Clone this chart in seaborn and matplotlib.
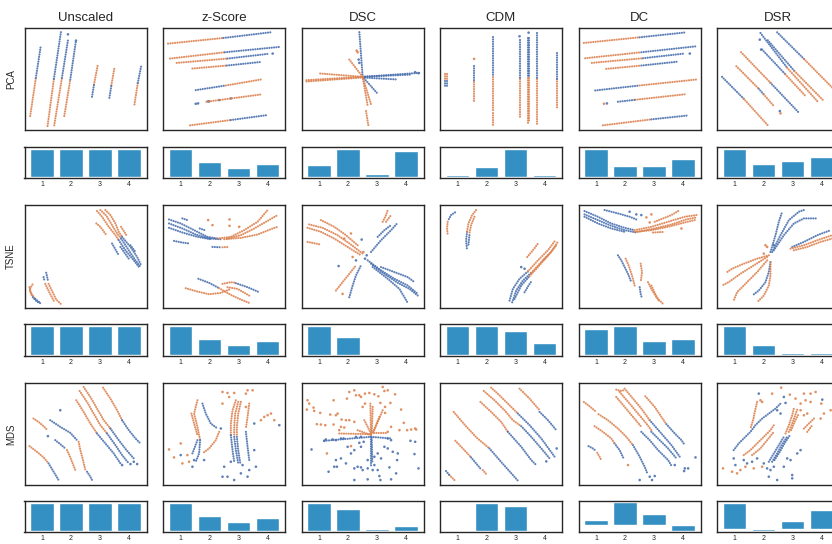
import matplotlib

matplotlib.use("Agg")
import matplotlib.pyplot as plt
import pandas as pd
import seaborn as sns

# columns / rows of the grid
SCALERS = ["Unscaled", "z-Score", "DSC", "CDM", "DC", "DSR"]
METHODS = ["PCA", "TSNE", "MDS"]
BAR_TICKS = ["1", "2", "3", "4"]

# normalised component weights shown in the small bar panels
BARS_PCA = {
    "Unscaled": [1.0, 1.0, 1.0, 1.0],
    "z-Score": [1.0, 0.53, 0.31, 0.46],
    "DSC": [0.42, 1.0, 0.10, 0.93],
    "CDM": [0.05, 0.33, 1.0, 0.05],
    "DC": [1.0, 0.39, 0.39, 0.64],
    "DSR": [1.0, 0.46, 0.57, 0.71],
}
BARS_TSNE = {
    "Unscaled": [1.0, 1.0, 1.0, 1.0],
    "z-Score": [1.0, 0.53, 0.32, 0.46],
    "DSC": [1.0, 0.60, 0.04, 0.04],
    "CDM": [1.0, 1.0, 0.81, 0.42],
    "DC": [0.88, 1.0, 0.46, 0.53],
    "DSR": [1.0, 0.32, 0.07, 0.07],
}
BARS_MDS = {
    "Unscaled": [1.0, 1.0, 1.0, 1.0],
    "z-Score": [1.0, 0.53, 0.32, 0.46],
    "DSC": [1.0, 0.78, 0.07, 0.18],
    "CDM": [0.0, 1.0, 0.87, 0.03],
    "DC": [0.22, 1.0, 0.49, -0.29],
    "DSR": [1.0, -0.07, 0.29, 0.72],
}

# embedded points: strands of consecutive points ("o" orange class, "b" blue class)
PCA_UNSCALED_LINES = [
    ("o", [(17, 265), (34, 150)]), ("b", [(34, 150), (49, 52)]),
    ("o", [(69, 295), (88, 153)]), ("b", [(88, 153), (109, 12)]),
    ("o", [(89, 293), (112, 150)]), ("b", [(112, 150), (130, 37)]),
    ("o", [(119, 265), (137, 155)]), ("b", [(137, 155), (154, 38)]),
    ("b", [(202, 207), (208, 170)]), ("o", [(208, 170), (219, 112)]),
    ("b", [(254, 210), (260, 172)]), ("o", [(260, 172), (269, 120)]),
    ("o", [(329, 230), (339, 165)]), ("b", [(339, 165), (349, 115)]),
]
PCA_UNSCALED_DOTS = [("b", [(130, 19), (154, 38)])]

PCA_ZSCORE_LINES = [
    ("o", [(15, 47), (181, 30)]), ("b", [(181, 30), (321, 13)]),
    ("o", [(21, 92), (185, 73)]), ("b", [(185, 73), (348, 57)]),
    ("o", [(41, 105), (193, 92)]), ("b", [(193, 92), (313, 78)]),
    ("o", [(88, 122), (191, 113)]), ("b", [(191, 113), (295, 102)]),
    ("b", [(98, 187), (188, 173)]), ("o", [(188, 173), (293, 155)]),
    ("o", [(130, 222), (293, 200)]),
    ("o", [(81, 293), (203, 277)]), ("b", [(203, 277), (313, 262)]),
]
PCA_ZSCORE_DOTS = [("b", [(98, 228), (105, 227), (135, 221), (138, 221),
                          (168, 217), (203, 212), (328, 77)])]

PCA_DSC_LINES = [
    ("b", [(183, 147), (173, 12)]),
    ("o", [(143, 95), (183, 147)]),
    ("o", [(15, 157), (183, 147)]),
    ("o", [(15, 161), (183, 149)]),
    ("o", [(56, 137), (183, 147)]),
    ("b", [(183, 147), (353, 135)]),
    ("b", [(183, 149), (288, 155)]),
    ("b", [(183, 147), (330, 140)]),
    ("b", [(183, 147), (228, 198)]),
    ("o", [(183, 147), (208, 230)]),
    ("o", [(183, 147), (198, 235)]),
    ("o", [(193, 250), (200, 293)]),
]
PCA_DSC_DOTS = [("o", [(165, 68), (168, 73)]),
                ("b", [(171, 95), (173, 105), (340, 133), (350, 136)])]

PCA_CDM_LINES = [
    ("o", [(16, 137), (16, 160)]), ("b", [(16, 160), (16, 177)]),
    ("o", [(20, 137), (20, 160)]), ("b", [(20, 160), (20, 177)]),
    ("b", [(102, 113), (102, 160)]), ("o", [(102, 163), (102, 225)]),
    ("b", [(158, 28), (158, 147)]), ("o", [(158, 147), (158, 250)]),
    ("o", [(158, 257), (158, 295)]),
    ("b", [(238, 35), (238, 150)]), ("o", [(238, 153), (238, 270)]),
    ("b", [(264, 30), (264, 150)]), ("o", [(264, 150), (264, 293)]),
    ("b", [(267, 30), (267, 150)]), ("o", [(267, 150), (267, 280)]),
    ("b", [(289, 15), (289, 153)]), ("o", [(289, 153), (289, 290)]),
    ("b", [(349, 75), (349, 152)]), ("o", [(349, 152), (349, 242)]),
]
PCA_CDM_DOTS = [("o", [(102, 93)]), ("b", [(238, 25), (265, 14)])]

PCA_DC_LINES = [
    ("o", [(16, 45), (183, 28)]), ("b", [(183, 28), (323, 13)]),
    ("o", [(20, 91), (188, 73)]), ("b", [(188, 73), (353, 55)]),
    ("o", [(40, 105), (193, 91)]), ("b", [(193, 91), (316, 77)]),
    ("o", [(83, 123), (188, 113)]), ("b", [(188, 113), (300, 101)]),
    ("b", [(50, 188), (183, 173)]), ("o", [(183, 173), (353, 155)]),
    ("b", [(118, 222), (170, 216)]), ("o", [(170, 216), (323, 199)]),
    ("o", [(73, 293), (218, 275)]), ("b", [(218, 275), (330, 263)]),
]
PCA_DC_DOTS = [("o", [(76, 228)]), ("b", [(85, 227), (333, 77)])]

PCA_DSR_LINES = [
    ("b", [(15, 147), (80, 213)]), ("o", [(80, 213), (152, 293)]),
    ("o", [(58, 115), (125, 183)]), ("b", [(125, 183), (140, 200)]),
    ("o", [(140, 200), (170, 235)]),
    ("o", [(72, 73), (160, 165)]), ("b", [(160, 165), (245, 255)]),
    ("b", [(130, 15), (210, 120)]), ("o", [(210, 120), (300, 220)]),
    ("b", [(152, 37), (232, 130)]), ("o", [(232, 130), (320, 220)]),
    ("b", [(135, 65), (205, 140)]), ("o", [(205, 140), (265, 205)]),
    ("b", [(180, 13), (260, 93)]), ("o", [(260, 93), (365, 200)]),
]
PCA_DSR_DOTS = [("b", [(128, 35), (132, 65), (188, 250)]), ("o", [(190, 257)])]

TSNE_UNSCALED_LINES = [
    ("o", [(217, 18), (232, 35), (252, 65), (272, 90), (282, 105)]),
    ("b", [(282, 105), (302, 135), (327, 165), (345, 188)]),
    ("o", [(227, 15), (245, 32), (262, 60), (277, 85), (289, 100)]),
    ("b", [(289, 100), (312, 135), (332, 165), (347, 185)]),
    ("o", [(242, 15), (257, 30), (272, 55), (282, 80), (292, 95)]),
    ("b", [(292, 95), (317, 125), (337, 155), (349, 180)]),
    ("o", [(215, 55), (227, 65), (245, 90)]),
    ("o", [(289, 65), (305, 90)]),
    ("b", [(262, 115), (282, 150)]),
    ("b", [(287, 125), (312, 160)]),
    ("b", [(317, 120), (332, 140)]),
    ("o", [(24, 237), (15, 252), (22, 270)]),
    ("b", [(25, 275), (37, 288), (52, 295)]),
    ("o", [(15, 245), (19, 262), (32, 280)]), ("b", [(32, 280), (45, 290)]),
    ("b", [(65, 202), (70, 225)]),
    ("o", [(72, 235), (85, 262), (95, 282), (109, 295)]),
    ("b", [(57, 215), (60, 228)]),
    ("o", [(62, 235), (75, 262), (90, 290)]),
]
TSNE_UNSCALED_DOTS = []

TSNE_ZSCORE_LINES = [
    ("b", [(18, 43), (53, 55), (93, 75), (133, 95), (163, 100)]),
    ("o", [(163, 100), (203, 95), (243, 75), (283, 50), (313, 15)]),
    ("b", [(18, 55), (58, 70), (98, 88), (138, 100), (173, 102)]),
    ("o", [(193, 100), (233, 90), (273, 70), (308, 50), (343, 30)]),
    ("b", [(18, 68), (58, 82), (103, 95), (143, 102)]),
    ("o", [(183, 102), (233, 98), (283, 88), (323, 72), (343, 65)]),
    ("b", [(33, 107), (58, 112), (81, 115)]),
    ("b", [(58, 40), (73, 45)]),
    ("b", [(110, 70), (125, 75)]),
    ("b", [(148, 125), (173, 126)]), ("o", [(178, 126), (198, 125)]),
    ("b", [(106, 220), (138, 232), (168, 248)]),
    ("o", [(168, 248), (203, 268), (233, 282), (261, 293)]),
    ("o", [(68, 248), (103, 258), (138, 266), (173, 262), (203, 250)]),
    ("o", [(178, 235), (203, 230), (218, 232)]),
    ("b", [(218, 233), (253, 245), (288, 260)]),
    ("o", [(193, 245), (223, 250), (258, 270)]),
]
TSNE_ZSCORE_DOTS = [("o", [(135, 45), (148, 60), (199, 43), (199, 62), (228, 65)])]

TSNE_DSC_LINES = [
    ("o", [(18, 68), (58, 80), (98, 100), (138, 125), (178, 150)]),
    ("b", [(198, 165), (238, 195), (278, 220), (318, 240), (348, 265)]),
    ("o", [(23, 58), (63, 68), (108, 90), (148, 118), (183, 145)]),
    ("b", [(208, 175), (248, 205), (288, 232), (323, 250), (348, 270)]),
    ("o", [(58, 45), (98, 65), (133, 90), (168, 120)]),
    ("b", [(213, 185), (258, 220), (293, 250), (318, 292)]),
    ("o", [(18, 110), (58, 118)]),
    ("b", [(238, 185), (278, 200), (318, 215), (338, 230)]),
    ("o", [(103, 255), (123, 230), (143, 205), (163, 180)]),
    ("b", [(208, 140), (238, 105), (268, 75), (286, 55)]),
    ("b", [(143, 275), (153, 240), (163, 210), (178, 180)]),
    ("o", [(243, 50), (253, 30), (258, 15)]),
    ("o", [(253, 50), (268, 30)]),
    ("b", [(228, 95), (248, 75), (268, 60)]),
]
TSNE_DSC_DOTS = [("o", [(148, 85), (153, 155), (128, 100), (123, 265), (185, 140)]),
                 ("b", [(180, 103), (111, 182), (163, 165), (190, 160), (195, 150)])]

TSNE_CDM_LINES = [
    ("b", [(45, 22), (33, 30), (25, 45)]), ("o", [(23, 50), (21, 70), (23, 88)]),
    ("o", [(108, 15), (95, 32), (85, 55), (81, 80)]),
    ("b", [(81, 80), (78, 105), (81, 135)]),
    ("o", [(103, 35), (93, 60), (88, 85)]), ("b", [(88, 90), (85, 120)]),
    ("b", [(208, 285), (218, 250), (238, 220), (263, 198)]),
    ("o", [(263, 198), (293, 165), (323, 135), (343, 108)]),
    ("b", [(216, 290), (228, 255), (248, 225), (273, 202)]),
    ("o", [(273, 202), (303, 170), (333, 140), (351, 112)]),
    ("b", [(223, 280), (243, 240), (268, 212)]),
    ("o", [(268, 212), (293, 185), (323, 150), (348, 120)]),
    ("o", [(261, 155), (278, 135), (293, 115)]),
    ("o", [(308, 165), (323, 150)]),
    ("b", [(253, 260), (265, 240), (275, 225)]),
]
TSNE_CDM_DOTS = [("b", [(243, 185), (253, 190)])]

TSNE_DC_LINES = [
    ("b", [(18, 18), (58, 35), (98, 55), (138, 68), (168, 75)]),
    ("o", [(168, 75), (218, 65), (268, 50), (318, 35), (353, 30)]),
    ("b", [(18, 28), (58, 45), (98, 62), (138, 75), (173, 82)]),
    ("o", [(178, 80), (228, 70), (278, 58), (323, 43), (353, 37)]),
    ("b", [(18, 35), (58, 55), (98, 70), (138, 80)]),
    ("o", [(168, 80), (218, 75), (268, 65), (318, 52), (348, 45)]),
    ("b", [(78, 15), (118, 25), (153, 35), (178, 45)]),
    ("o", [(228, 50), (278, 30), (303, 15)]),
    ("o", [(223, 82), (258, 80)]),
    ("b", [(118, 150), (128, 165), (138, 185), (148, 205), (158, 230)]),
    ("o", [(141, 160), (150, 180), (160, 210), (168, 240)]),
    ("o", [(186, 175), (190, 200), (186, 230)]),
    ("b", [(183, 245), (186, 265), (190, 278)]),
    ("o", [(208, 230), (218, 250), (233, 275), (253, 295)]),
    ("o", [(218, 240), (228, 262), (240, 285)]),
]
TSNE_DC_DOTS = [("o", [(203, 37), (218, 28), (213, 52), (308, 70)]),
                ("b", [(153, 20), (173, 28), (188, 30)])]

TSNE_DSR_LINES = [
    ("b", [(160, 140), (175, 90), (185, 50), (195, 20)]),
    ("b", [(165, 140), (190, 90), (215, 45), (245, 20), (260, 15)]),
    ("b", [(170, 135), (200, 90), (230, 55), (260, 40), (300, 40)]),
    ("o", [(155, 150), (120, 160), (80, 175), (45, 190), (30, 200)]),
    ("o", [(150, 155), (110, 180), (70, 205), (35, 230), (15, 240)]),
    ("o", [(150, 165), (120, 200), (90, 230), (60, 260), (50, 285)]),
    ("b", [(160, 170), (155, 200), (145, 230), (125, 255), (105, 270)]),
    ("o", [(160, 170), (160, 210), (155, 240), (140, 270), (120, 290)]),
    ("b", [(225, 125), (260, 110), (300, 90), (340, 75)]),
    ("o", [(220, 130), (260, 120), (300, 105), (345, 90)]),
    ("o", [(230, 135), (270, 125), (310, 110), (345, 100)]),
]
TSNE_DSR_DOTS = [("o", [(145, 120), (150, 125), (140, 145)]), ("b", [(170, 120)])]

MDS_UNSCALED_LINES = [
    ("o", [(15, 190), (37, 207), (57, 224), (72, 242)]),
    ("b", [(72, 242), (87, 267), (102, 292)]),
    ("o", [(27, 107), (42, 117), (57, 130), (67, 140)]),
    ("b", [(77, 112), (107, 132), (137, 150), (157, 172)]),
    ("o", [(162, 177), (167, 202), (175, 232), (182, 262)]),
    ("b", [(187, 267), (197, 282), (202, 292)]),
    ("b", [(92, 172), (107, 184), (122, 197)]),
    ("o", [(127, 202), (137, 224), (152, 262)]),
    ("o", [(165, 24), (187, 57), (207, 92), (227, 127), (247, 152)]),
    ("b", [(247, 152), (272, 187), (292, 217), (312, 242)]),
    ("o", [(177, 12), (197, 42), (217, 77), (237, 112), (257, 137)]),
    ("b", [(257, 137), (282, 172), (305, 202), (327, 227)]),
    ("o", [(155, 52), (177, 87), (197, 122), (217, 152)]),
    ("b", [(217, 152), (242, 182), (267, 212), (287, 242)]),
    ("o", [(235, 14), (257, 47), (277, 82), (292, 112)]),
    ("b", [(292, 112), (312, 142), (332, 167), (347, 182)]),
]
MDS_UNSCALED_DOTS = [("b", [(70, 160), (107, 82), (292, 247), (317, 244),
                            (327, 237), (337, 244)])]

MDS_ZSCORE_LINES = [
    ("o", [(103, 52), (93, 92), (103, 132), (111, 172)]),
    ("b", [(111, 172), (108, 212), (98, 237)]),
    ("b", [(118, 62), (128, 92), (143, 122), (163, 137)]),
    ("o", [(168, 147), (158, 172), (138, 197), (118, 212)]),
    ("o", [(85, 92), (93, 122), (103, 157)]), ("b", [(103, 172), (88, 212)]),
    ("o", [(218, 52), (208, 82), (203, 122), (203, 157)]),
    ("b", [(203, 157), (208, 202), (213, 237)]),
    ("o", [(225, 57), (216, 92), (213, 132), (213, 162)]),
    ("b", [(213, 162), (218, 202), (225, 242)]),
    ("o", [(233, 57), (225, 92), (221, 132), (221, 162)]),
    ("b", [(221, 162), (225, 202), (231, 240)]),
    ("o", [(258, 62), (253, 102), (248, 137)]),
    ("b", [(248, 147), (253, 192), (258, 232)]),
]
MDS_ZSCORE_DOTS = [
    ("o", [(18, 200), (33, 224), (53, 182), (58, 242), (78, 237), (73, 217),
           (178, 27), (193, 30), (198, 42), (213, 30), (248, 32), (268, 22),
           (253, 22), (313, 97), (303, 102), (323, 92), (333, 112), (293, 112),
           (248, 72), (178, 62)]),
    ("b", [(53, 217), (88, 252), (93, 232), (123, 232), (173, 137), (178, 282),
           (193, 282), (213, 292), (233, 272), (253, 282), (278, 252), (273, 122),
           (348, 127), (273, 202), (203, 237), (183, 252), (238, 247), (258, 262)]),
]

MDS_DSC_LINES = [
    ("o", [(206, 62), (208, 157)]),
    ("o", [(213, 72), (210, 157)]),
    ("o", [(243, 82), (213, 152)]),
    ("o", [(233, 102), (213, 152)]),
    ("o", [(188, 112), (208, 152)]),
    ("o", [(168, 142), (208, 157)]),
    ("o", [(113, 152), (208, 154)]),
    ("o", [(218, 150), (258, 150)]),
    ("b", [(68, 174), (208, 162), (268, 167)]),
    ("b", [(208, 162), (208, 252)]),
    ("b", [(210, 165), (212, 240)]),
]
MDS_DSC_DOTS = [
    ("o", [(18, 52), (23, 62), (36, 74), (16, 80), (38, 84), (56, 90), (96, 52),
           (86, 95), (108, 92), (103, 97), (136, 47), (143, 27), (158, 22),
           (163, 37), (173, 37), (178, 42), (190, 32), (203, 30), (218, 34),
           (230, 40), (243, 12), (248, 24), (258, 22), (280, 34), (266, 60),
           (250, 72), (236, 60), (190, 62), (183, 72), (133, 112), (143, 112),
           (158, 117), (120, 110), (46, 124), (58, 125), (71, 127), (96, 125),
           (118, 132), (113, 142), (128, 134), (250, 90), (258, 147), (298, 80),
           (306, 120), (293, 142), (316, 142), (328, 140), (340, 137), (343, 140),
           (268, 132), (76, 212), (148, 190)]),
    ("b", [(30, 200), (68, 174), (73, 170), (93, 170), (103, 172), (118, 167),
           (126, 167), (163, 162), (178, 162), (186, 177), (173, 180), (178, 192),
           (158, 202), (138, 192), (148, 212), (118, 227), (103, 232), (106, 252),
           (98, 252), (81, 267), (133, 242), (158, 257), (168, 252), (178, 254),
           (183, 262), (198, 257), (213, 262), (218, 247), (228, 262), (233, 280),
           (236, 292), (238, 227), (248, 192), (258, 167), (268, 172), (258, 197),
           (273, 207), (288, 212), (286, 232), (263, 254), (268, 290), (283, 272),
           (326, 174), (340, 177), (338, 214), (350, 257), (198, 290), (158, 292),
           (228, 212), (218, 222), (198, 232)]),
]

MDS_CDM_LINES = [
    ("o", [(41, 87), (75, 127), (110, 165), (148, 197)]),
    ("b", [(148, 197), (185, 240), (233, 294)]),
    ("o", [(46, 174), (73, 202), (93, 224)]),
    ("b", [(93, 224), (108, 242), (123, 260)]),
    ("o", [(128, 262), (141, 277)]),
    ("o", [(121, 57), (153, 87), (183, 117), (203, 147)]),
    ("b", [(203, 147), (243, 192), (273, 232), (288, 247)]),
    ("o", [(131, 24), (163, 52), (193, 82), (218, 112), (243, 130)]),
    ("b", [(243, 130), (273, 162), (303, 197), (328, 227)]),
    ("o", [(153, 14), (178, 37), (203, 62), (233, 92)]),
    ("b", [(233, 92), (268, 127), (303, 167), (343, 222)]),
    ("o", [(238, 17), (268, 47), (298, 82)]),
    ("b", [(298, 87), (323, 112), (348, 142)]),
    ("b", [(18, 265), (28, 277)]), ("o", [(28, 277), (43, 292)]),
]
MDS_CDM_DOTS = [("b", [(349, 197), (318, 236)])]

MDS_DC_LINES = [
    ("b", [(30, 190), (43, 197), (53, 205)]),
    ("o", [(56, 210), (63, 222), (68, 232)]),
    ("o", [(16, 57), (33, 70), (53, 87)]),
    ("o", [(60, 94), (88, 112), (118, 137), (143, 162), (163, 187)]),
    ("b", [(163, 187), (183, 222), (198, 252), (206, 272)]),
    ("o", [(48, 130), (73, 147), (98, 167), (108, 182)]),
    ("b", [(108, 182), (123, 202), (135, 227)]),
    ("o", [(113, 20), (128, 24), (140, 20)]),
    ("o", [(113, 42), (138, 72), (163, 102), (188, 132)]),
    ("b", [(188, 147), (213, 172), (238, 202), (268, 232), (280, 252)]),
    ("o", [(123, 27), (153, 62), (178, 92), (203, 122), (218, 142)]),
    ("b", [(218, 147), (243, 172), (268, 197), (293, 227)]),
    ("o", [(138, 17), (163, 47), (188, 77), (213, 112)]),
    ("b", [(213, 112), (248, 152), (278, 187), (303, 222)]),
    ("o", [(200, 40), (228, 72), (248, 102), (263, 124)]),
    ("b", [(263, 124), (288, 152), (308, 172), (318, 187)]),
]
MDS_DC_DOTS = [("o", [(148, 247)]),
               ("b", [(183, 292), (213, 282), (220, 292), (228, 280), (288, 247),
                      (318, 257), (328, 257), (350, 224), (316, 265)])]

MDS_DSR_LINES = [
    ("b", [(50, 202), (65, 182), (80, 167), (100, 147), (115, 127), (135, 107),
           (155, 92), (175, 77), (190, 62)]),
    ("o", [(80, 217), (100, 202), (120, 182), (140, 162), (160, 142), (170, 127)]),
    ("o", [(105, 217), (130, 197), (150, 172), (170, 147)]),
    ("b", [(155, 237), (170, 212), (185, 187), (200, 162)]),
    ("o", [(205, 152), (215, 127), (225, 97), (230, 77)]),
    ("b", [(165, 237), (180, 212), (195, 184), (210, 162)]),
    ("o", [(215, 147), (225, 122), (235, 94), (240, 80)]),
    ("b", [(172, 232), (188, 207), (203, 180), (218, 157)]),
    ("o", [(222, 142), (232, 117), (245, 92)]),
    ("o", [(120, 57), (113, 87), (108, 112), (100, 137)]),
    ("o", [(260, 137), (275, 122), (290, 107)]),
    ("o", [(270, 147), (285, 127)]),
]
MDS_DSR_DOTS = [
    ("o", [(18, 257), (45, 267), (60, 272), (70, 262), (85, 252), (110, 257),
           (135, 252), (165, 32), (192, 14), (218, 35), (260, 32), (280, 32),
           (295, 27), (312, 62), (320, 92), (310, 107), (280, 57), (265, 52),
           (250, 62), (235, 47), (250, 82), (260, 97), (270, 92), (340, 82),
           (135, 57), (130, 52)]),
    ("b", [(125, 32), (50, 227), (55, 247), (80, 232), (90, 242), (105, 237),
           (120, 227), (140, 242), (150, 257), (160, 262), (170, 252), (180, 292),
           (200, 252), (210, 227), (220, 232), (225, 277), (225, 287), (240, 212),
           (250, 202), (315, 50), (200, 42), (205, 60), (180, 82), (190, 92),
           (155, 282)]),
]

PANELS = {
    "PCA": [(PCA_UNSCALED_LINES, PCA_UNSCALED_DOTS), (PCA_ZSCORE_LINES, PCA_ZSCORE_DOTS),
            (PCA_DSC_LINES, PCA_DSC_DOTS), (PCA_CDM_LINES, PCA_CDM_DOTS),
            (PCA_DC_LINES, PCA_DC_DOTS), (PCA_DSR_LINES, PCA_DSR_DOTS)],
    "TSNE": [(TSNE_UNSCALED_LINES, TSNE_UNSCALED_DOTS), (TSNE_ZSCORE_LINES, TSNE_ZSCORE_DOTS),
             (TSNE_DSC_LINES, TSNE_DSC_DOTS), (TSNE_CDM_LINES, TSNE_CDM_DOTS),
             (TSNE_DC_LINES, TSNE_DC_DOTS), (TSNE_DSR_LINES, TSNE_DSR_DOTS)],
    "MDS": [(MDS_UNSCALED_LINES, MDS_UNSCALED_DOTS), (MDS_ZSCORE_LINES, MDS_ZSCORE_DOTS),
            (MDS_DSC_LINES, MDS_DSC_DOTS), (MDS_CDM_LINES, MDS_CDM_DOTS),
            (MDS_DC_LINES, MDS_DC_DOTS), (MDS_DSR_LINES, MDS_DSR_DOTS)],
}
BARS = {"PCA": BARS_PCA, "TSNE": BARS_TSNE, "MDS": BARS_MDS}

PALETTE = {"o": "#dd8452", "b": "#4c72b0"}
BAR_COLOR = "#348fc2"

sns.set_style("white", {"axes.edgecolor": "#262626"})
plt.rcParams["font.family"] = ["Liberation Sans", "DejaVu Sans"]
plt.rcParams["axes.linewidth"] = 1.0

W, H = 832, 544
fig = plt.figure(figsize=(W / 100, H / 100), dpi=100)

col_left = [24.5 + 138.5 * i for i in range(6)]
panel_w = 122
scatter_rows = [(28, 130), (205, 308), (383, 485)]
bar_rows = [(147, 178), (324, 356), (501, 532)]


def px_axes(left, top, width, bottom):
    return fig.add_axes([left / W, 1 - bottom / H, width / W, (bottom - top) / H])


def draw_embedding(ax, lines, dots):
    rows = []
    for k, (cls, pts) in enumerate(lines):
        for x, y in pts:
            rows.append({"x": x, "y": y, "strand": k, "cls": cls})
    df = pd.DataFrame(rows)
    sns.lineplot(data=df, x="x", y="y", hue="cls", units="strand", estimator=None,
                 sort=False, palette=PALETTE, legend=False, ax=ax,
                 linewidth=1.6, linestyle=(0, (0.01, 1.05)),
                 dash_capstyle="round", alpha=0.9)
    pts = [{"x": x, "y": y, "cls": cls} for cls, group in dots for x, y in group]
    if pts:
        sns.scatterplot(data=pd.DataFrame(pts), x="x", y="y", hue="cls",
                        palette=PALETTE, s=3.5, linewidth=0, alpha=0.9,
                        legend=False, ax=ax)
    ax.set_xlim(0, 365)
    ax.set_ylim(307, 0)
    ax.set(xticks=[], yticks=[], xlabel="", ylabel="")


for r, method in enumerate(METHODS):
    s_top, s_bot = scatter_rows[r]
    b_top, b_bot = bar_rows[r]
    for c, scaler in enumerate(SCALERS):
        ax = px_axes(col_left[c], s_top, panel_w, s_bot)
        lines, dots = PANELS[method][c]
        draw_embedding(ax, lines, dots)
        if r == 0:
            ax.set_title(scaler, fontsize=9.5, pad=5)
        if c == 0:
            ax.set_ylabel(method, fontsize=7, labelpad=6)

        bx = px_axes(col_left[c], b_top, panel_w, b_bot)
        vals = BARS[method][scaler]
        sns.barplot(x=BAR_TICKS, y=vals, color=BAR_COLOR, saturation=1,
                    width=0.82, ax=bx)
        lo = min(0.0, min(vals))
        bx.set_xlim(-0.61, 3.61)
        bx.set_ylim(lo - 0.045, max(vals) * 1.06)
        bx.set(yticks=[], xlabel="", ylabel="")
        bx.tick_params(axis="x", length=0, pad=2.5, labelsize=5)

fig.savefig("out.png", dpi=100)
